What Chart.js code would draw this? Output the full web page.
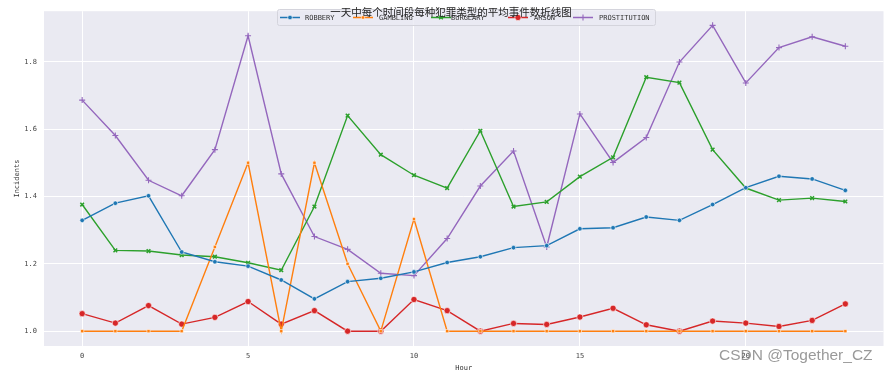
<!DOCTYPE html>
<html>
 <head>
  <meta charset="utf-8">
  <title>犯罪类型折线图</title>
  <script src="https://cdn.jsdelivr.net/npm/chart.js"></script>
  <style>
   html, body { margin: 0; padding: 0; background: #ffffff; }
   #wrap { width: 889px; height: 375px; }
  </style>
 </head>
 <body>
  <div id="wrap"><canvas id="myChart" width="889" height="375"></canvas></div>
  <script type="text/javascript">
    // hours of the day
    var hours = [0,1,2,3,4,5,6,7,8,9,10,11,12,13,14,15,16,17,18,19,20,21,22,23];
    var xTicks = [0, 5, 10, 15, 20];
    var yTicks = [1.0, 1.2, 1.4, 1.6, 1.8];

    var robbery = [1.329,1.380,1.402,1.235,1.206,1.193,1.152,1.096,1.147,1.157,1.176,1.204,
                   1.221,1.248,1.254,1.304,1.307,1.339,1.329,1.376,1.426,1.460,1.452,1.418];
    var gambling = [1,1,1,1,1.25,1.5,1,1.5,1.2,1,1.333,1,
                    1,1,1,1,1,1,1,1,1,1,1,1];
    var burglary = [1.376,1.240,1.238,1.226,1.221,1.203,1.181,1.370,1.640,1.524,1.463,1.425,
                    1.595,1.370,1.384,1.459,1.516,1.754,1.738,1.539,1.425,1.389,1.395,1.385];
    var arson = [1.052,1.024,1.076,1.021,1.041,1.088,1.021,1.061,1.0,1.0,1.094,1.061,
                 1.0,1.023,1.020,1.042,1.068,1.019,1.0,1.030,1.024,1.014,1.032,1.081];
    var prostitution = [1.686,1.581,1.448,1.402,1.539,1.877,1.467,1.281,1.243,1.172,1.165,1.275,
                        1.431,1.535,1.250,1.645,1.501,1.575,1.799,1.908,1.737,1.842,1.874,1.846];

    var names = ['ROBBERY', 'GAMBLING', 'BURGLARY', 'ARSON', 'PROSTITUTION'];
    var series = [robbery, gambling, burglary, arson, prostitution];
    var colors = ['#1f77b4', '#ff7f0e', '#2ca02c', '#d62728', '#9467bd'];
    var markers = [
        {pointStyle: 'circle', radius: 2.3, borderWidth: 0.6},
        {pointStyle: 'rect', radius: 2.3, borderWidth: 0.6},
        {pointStyle: 'crossRot', radius: 2.6, borderWidth: 1.5},
        {pointStyle: 'circle', radius: 3.1, borderWidth: 0.6},
        {pointStyle: 'cross', radius: 3.0, borderWidth: 1.1}
    ];

    var monoFont = '"DejaVu Sans Mono", monospace';

    var bgPlugin = {
        id: 'bg',
        beforeDraw: function (chart) {
            var ctx = chart.ctx, a = chart.chartArea;
            ctx.save();
            ctx.fillStyle = '#ffffff';
            ctx.fillRect(0, 0, chart.width, chart.height);
            ctx.fillStyle = '#eaeaf2';
            ctx.fillRect(a.left, a.top, a.right - a.left, a.bottom - a.top);
            ctx.restore();
        }
    };

    var overlayPlugin = {
        id: 'overlay',
        afterDraw: function (chart) {
            var ctx = chart.ctx;
            ctx.save();
            // legend box
            ctx.fillStyle = 'rgba(234,234,242,0.8)';
            ctx.strokeStyle = '#d4d4dc';
            ctx.lineWidth = 1;
            ctx.beginPath();
            ctx.roundRect(277.5, 9.5, 378, 16, 2);
            ctx.fill();
            ctx.stroke();
            var handleX = [280, 353, 431, 508, 573];
            var textX = [305, 379, 451, 534, 599];
            var cy = 17.5;
            for (var i = 0; i < names.length; i++) {
                ctx.strokeStyle = colors[i];
                ctx.lineWidth = 1.5;
                ctx.beginPath();
                ctx.moveTo(handleX[i], cy);
                ctx.lineTo(handleX[i] + 20, cy);
                ctx.stroke();
                ctx.fillStyle = colors[i];
                ctx.strokeStyle = markers[i].pointStyle.indexOf('cross') === 0 ? colors[i] : '#ffffff';
                ctx.lineWidth = markers[i].borderWidth;
                Chart.helpers.drawPoint(ctx, {pointStyle: markers[i].pointStyle, radius: markers[i].radius, borderWidth: markers[i].borderWidth, rotation: 0}, handleX[i] + 10, cy);
                ctx.fillStyle = '#333333';
                ctx.font = '7px ' + monoFont;
                ctx.textAlign = 'left';
                ctx.textBaseline = 'middle';
                ctx.fillText(names[i], textX[i], cy + 0.5);
            }
            // title (drawn on top of the legend, like the original)
            ctx.fillStyle = '#222222';
            ctx.font = '10.5px "Noto Sans CJK SC", sans-serif';
            ctx.textAlign = 'center';
            ctx.textBaseline = 'middle';
            ctx.fillText('一天中每个时间段每种犯罪类型的平均事件数折线图', 451, 12);
            // watermark
            ctx.fillStyle = 'rgba(110,110,110,0.7)';
            ctx.font = '15.5px "Liberation Sans", sans-serif';
            ctx.textAlign = 'left';
            ctx.fillText('CSDN @Together_CZ', 719, 356);
            ctx.restore();
        }
    };

    var ctx = document.getElementById('myChart').getContext('2d');
    var myChart = new Chart(ctx, {
        type: 'line',
        data: {
            datasets: series.map(function (vals, i) {
                return {
                    label: names[i],
                    data: hours.map(function (h, j) { return {x: h, y: vals[j]}; }),
                    borderColor: colors[i],
                    backgroundColor: colors[i],
                    borderWidth: 1.4,
                    pointStyle: markers[i].pointStyle,
                    pointRadius: markers[i].radius,
                    pointBorderWidth: markers[i].borderWidth,
                    pointBorderColor: markers[i].pointStyle.indexOf('cross') === 0 ? colors[i] : '#ffffff',
                    pointBackgroundColor: colors[i],
                    fill: false,
                    tension: 0
                };
            })
        },
        options: {
            responsive: false,
            animation: false,
            layout: { padding: { top: 8, right: 1, left: 0, bottom: 0 } },
            plugins: {
                legend: { display: false },
                title: { display: false },
                tooltip: { enabled: false }
            },
            scales: {
                x: {
                    type: 'linear',
                    min: -1.15,
                    max: 24.15,
                    afterBuildTicks: function (scale) {
                        scale.ticks = xTicks.map(function (v) { return {value: v}; });
                    },
                    afterFit: function (scale) { scale.height = 29; },
                    grid: { color: '#ffffff', lineWidth: 1, drawTicks: false },
                    border: { display: false },
                    ticks: {
                        padding: 6,
                        color: '#444444',
                        font: { family: monoFont, size: 7 },
                        callback: function (v) { return String(v); }
                    },
                    title: {
                        display: true,
                        text: 'Hour',
                        color: '#333333',
                        font: { family: monoFont, size: 7 },
                        padding: { top: 0, bottom: 3 }
                    }
                },
                y: {
                    min: 0.956,
                    max: 1.95,
                    afterBuildTicks: function (scale) {
                        scale.ticks = yTicks.map(function (v) { return {value: v}; });
                    },
                    afterFit: function (scale) { scale.width = 44; },
                    grid: { color: '#ffffff', lineWidth: 1, drawTicks: false },
                    border: { display: false },
                    ticks: {
                        padding: 7,
                        color: '#444444',
                        font: { family: monoFont, size: 7 },
                        callback: function (v) { return v.toFixed(1); }
                    },
                    title: {
                        display: true,
                        text: 'Incidents',
                        color: '#333333',
                        font: { family: monoFont, size: 7 },
                        padding: { top: 13, bottom: 0 }
                    }
                }
            }
        },
        plugins: [bgPlugin, overlayPlugin]
    });
  </script>
 </body>
</html>
